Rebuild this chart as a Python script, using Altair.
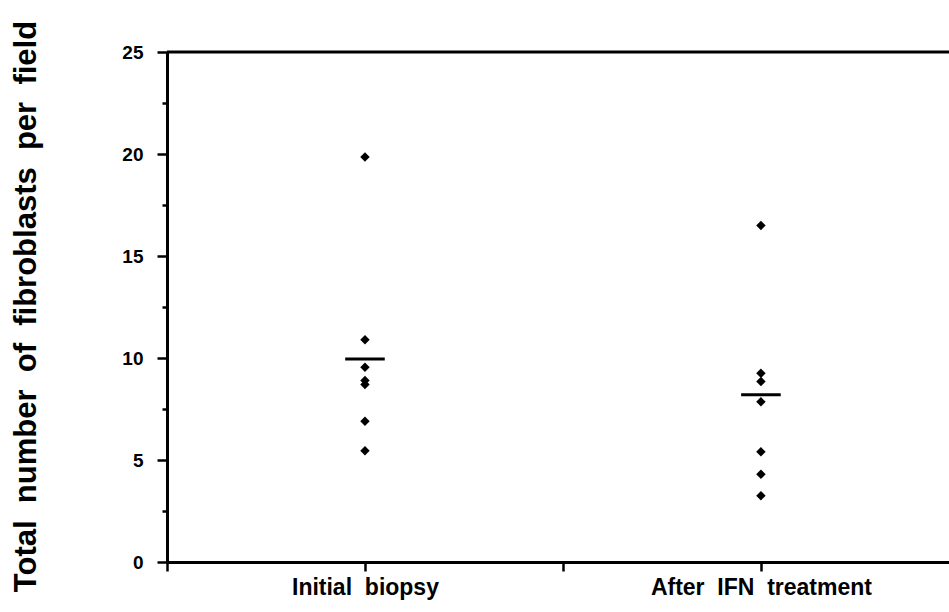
import altair as alt
import pandas as pd

categories = ["Initial biopsy", "After IFN treatment"]
initial_values = [19.85, 10.9, 9.55, 8.9, 8.7, 6.9, 5.45]
ifn_values = [16.5, 9.25, 8.85, 7.85, 5.4, 4.3, 3.25]
mean_values = [9.95, 8.2]
y_ticks = [0, 2.5, 5, 7.5, 10, 12.5, 15, 17.5, 20, 22.5, 25]
x_ticks = [0, 1, 2, 3]

NB = "\u00a0"

def spaced(s):
    return s.replace(" ", NB + NB)

rows = []
for v in initial_values:
    rows.append({"group": categories[0], "value": v})
for v in ifn_values:
    rows.append({"group": categories[1], "value": v})
points_df = pd.DataFrame(rows)
means_df = pd.DataFrame({"group": categories, "mean": mean_values})

pos_expr = f"datum.group === '{categories[0]}' ? 1 : 3"
label_expr = (f"datum.value === 1 ? '{spaced(categories[0])}' : "
              f"(datum.value === 3 ? '{spaced(categories[1])}' : '')")

FONT = "Liberation Sans"

x_scale = alt.Scale(domain=[0, 3.95], nice=False, zero=False)
y_scale = alt.Scale(domain=[0, 25], nice=False)

x_axis = alt.Axis(
    values=x_ticks, labelExpr=label_expr, title=None, grid=False,
    domainColor="black", domainWidth=3, tickColor="black", tickWidth=2.5,
    tickSize=9, labelFont=FONT, labelFontSize=23, labelFontWeight="bold",
    labelColor="black", labelPadding=5, labelFlush=False, labelOverlap=False,
    labelLimit=600,
)
y_axis = alt.Axis(
    values=y_ticks,
    labelExpr="datum.value % 5 === 0 ? datum.label : ''",
    title=spaced("Total number of fibroblasts per field"),
    grid=False, domainColor="black", domainWidth=3, tickColor="black",
    tickWidth=2.5,
    tickSize={"condition": {"test": "datum.value % 5 === 0", "value": 10}, "value": 5},
    labelFont=FONT, labelFontSize=19, labelFontWeight="bold", labelColor="black",
    labelPadding=14, labelOverlap=False,
    titleFont=FONT, titleFontSize=31, titleFontWeight="bold", titleColor="black",
    titleAngle=270, titleX=-132, titleY=254, titleAlign="center",
    titleBaseline="alphabetic",
)

points = alt.Chart(points_df).transform_calculate(
    xpos=pos_expr
).mark_point(shape="diamond", filled=True, color="black", size=90, opacity=1).encode(
    x=alt.X("xpos:Q", scale=x_scale, axis=x_axis),
    y=alt.Y("value:Q", scale=y_scale, axis=y_axis),
)

means = alt.Chart(means_df).transform_calculate(
    xpos=pos_expr
).transform_calculate(
    x1="datum.xpos - 0.1", x2="datum.xpos + 0.1"
).mark_rule(color="black", strokeWidth=3).encode(
    x=alt.X("x1:Q", scale=x_scale),
    x2="x2:Q",
    y=alt.Y("mean:Q", scale=y_scale),
)

top_line = alt.Chart(pd.DataFrame({"v": [25]})).mark_rule(
    color="black", strokeWidth=3
).encode(y=alt.Y("v:Q", scale=y_scale))

chart = alt.layer(points, means, top_line).properties(
    width=782, height=510,
    autosize=alt.AutoSizeParams(type="none"),
    padding={"left": 167, "top": 52, "right": 0, "bottom": 50},
).configure_view(strokeWidth=0).configure(background="white")

chart.save("out.html", embed_options={"renderer": "svg", "actions": False})
